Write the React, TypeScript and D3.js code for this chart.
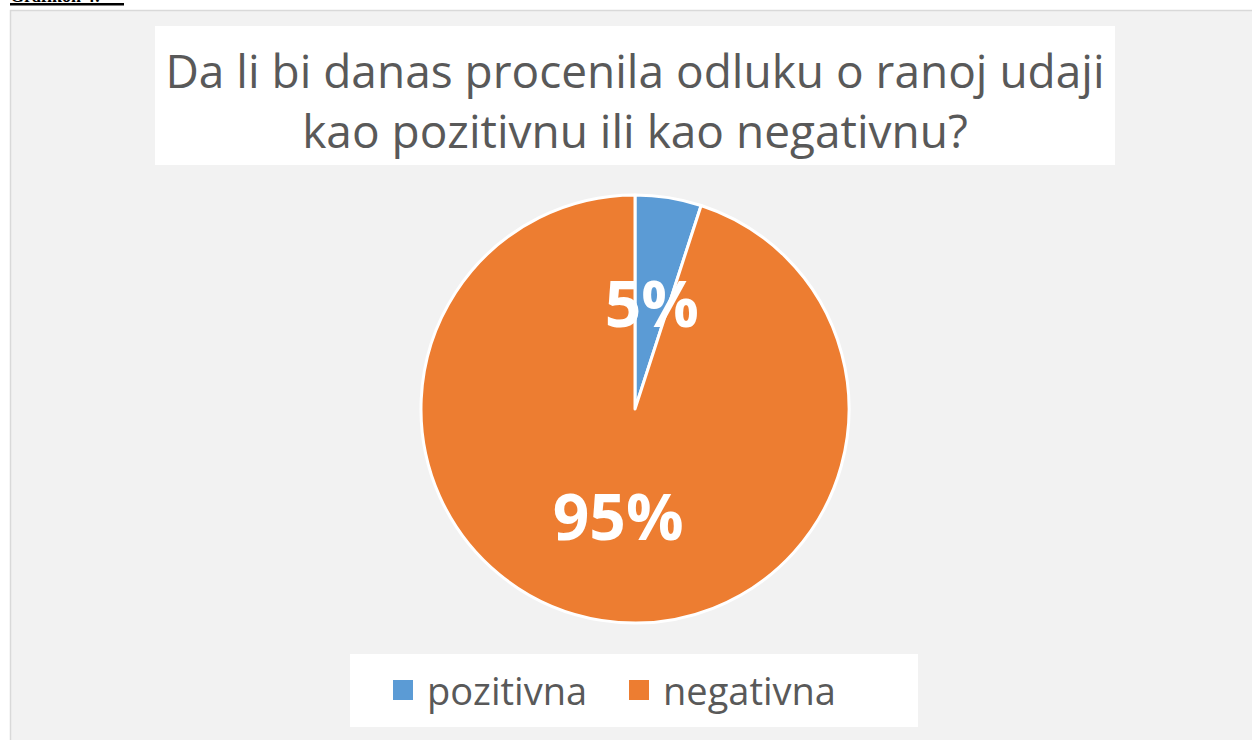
import React from "react";
import * as d3 from "d3";

const categories = ["pozitivna", "negativna"];
const values = [5, 95];
const colors = ["#5b9bd5", "#ed7d31"];
const titleLines = ["Da li bi danas procenila odluku o ranoj udaji", "kao pozitivnu ili kao negativnu?"];

const W = 1252;
const H = 740;

export default function App() {
  const cx = 635;
  const cy = 409;
  const r = 214;
  const pie = d3.pie<number>().sort(null).value((d) => d);
  const arcs = pie(values);
  const arc = d3.arc<d3.PieArcDatum<number>>().innerRadius(0).outerRadius(r);
  const labelArc = d3.arc<d3.PieArcDatum<number>>().innerRadius(108).outerRadius(108);
  const font = "'Open Sans', sans-serif";

  return (
    <svg width={W} height={H} style={{ position: "absolute", left: 0, top: 0, display: "block" }}>
      <rect x={0} y={0} width={W} height={H} fill="#ffffff" />
      <text x={10} y={2} fontFamily="'Liberation Serif', serif" fontSize={18} fontWeight="bold" fill="#000">Grafikon 4:</text>
      <rect x={10} y={3} width={114} height={2.5} fill="#000" />
      <rect x={10.5} y={10.5} width={W} height={H} fill="#f2f2f2" stroke="#d9d9d9" strokeWidth={1.5} />
      <rect x={155} y={26} width={960} height={139} fill="#ffffff" />
      {titleLines.map((t, i) => (
        <text key={i} x={635} y={88 + i * 60} textAnchor="middle" fontFamily={font} fontSize={46} fill="#595959">
          {t}
        </text>
      ))}
      <g transform={`translate(${cx},${cy})`}>
        {arcs.map((a, i) => (
          <path key={i} d={arc(a) || ""} fill={colors[i]} stroke="#ffffff" strokeWidth={3} strokeLinejoin="round" />
        ))}
        {arcs.map((a, i) => {
          const [x, y] = labelArc.centroid(a);
          return (
            <text key={"l" + i} x={x} y={y} textAnchor="middle" dominantBaseline="central" fontFamily={font} fontWeight="bold" fontSize={64} fill="#ffffff">
              {values[i]}%
            </text>
          );
        })}
      </g>
      <rect x={350} y={654} width={568} height={73} fill="#ffffff" />
      {categories.map((c, i) => {
        const x0 = i === 0 ? 393 : 629;
        return (
          <g key={c}>
            <rect x={x0} y={680} width={20} height={20} fill={colors[i]} />
            <text x={x0 + 34} y={705} fontFamily={font} fontSize={38} fill="#595959">{c}</text>
          </g>
        );
      })}
    </svg>
  );
}
